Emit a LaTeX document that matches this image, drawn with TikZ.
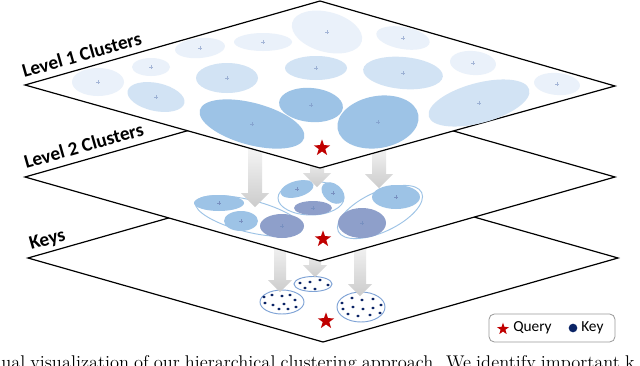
\documentclass[tikz,border=0pt]{standalone}
\usepackage{fontspec}
\newfontfamily\hcsans{Carlito}
\usetikzlibrary{shapes.geometric}
\definecolor{hcPale}{HTML}{EAF1FA}
\definecolor{hcSoft}{HTML}{D2E3F4}
\definecolor{hcDeep}{HTML}{9DC3E6}
\definecolor{hcDusk}{HTML}{8E9FCA}
\definecolor{hcTick}{HTML}{7890C0}
\definecolor{hcNavy}{HTML}{0B2466}
\definecolor{hcRim}{HTML}{7FA3D6}
\definecolor{hcRed}{HTML}{C00000}
\tikzset{
  plane/.style={draw=black, fill=white, line width=0.9pt, line join=miter},
  planelabel/.style={font=\hcsans\bfseries\fontsize{14.5}{17}\selectfont, anchor=base west, inner sep=0pt, rotate=15.9},
  query/.style={star, star points=5, star point ratio=2.5, fill=hcRed, inner sep=0pt, minimum size=13pt},
  legendtext/.style={font=\hcsans\fontsize{11.5}{13}\selectfont, anchor=west, inner sep=0pt},
}
\begin{document}
\begin{tikzpicture}[x=0.75pt, y=-0.75pt]
% one unit = one pixel of the 640 x 365 figure, y grows downwards
\useasboundingbox (0,0) rectangle (640,365);
\clip (0,0) rectangle (640,365);
% Keys plane
\path[plane] (28,258) -- (323,174) -- (618,258) -- (323,342) -- cycle;
\begin{scope}[draw=hcRim, fill=white, line width=0.7pt]
  \filldraw (282,302) ellipse (22 and 12);
  \filldraw (313,284) ellipse (19 and 7.5);
  \filldraw (361,307) ellipse (24 and 15);
\end{scope}
\begin{scope}[fill=hcNavy]
  \fill (264,297) ellipse (1.8 and 1.4);
  \fill (272,295) ellipse (1.8 and 1.4);
  \fill (282,296) ellipse (1.8 and 1.4);
  \fill (290,295) ellipse (1.8 and 1.4);
  \fill (295,300) ellipse (1.8 and 1.4);
  \fill (284,304) ellipse (1.8 and 1.4);
  \fill (273,305) ellipse (1.8 and 1.4);
  \fill (265,303) ellipse (1.8 and 1.4);
  \fill (279,309) ellipse (1.8 and 1.4);
  \fill (288,309) ellipse (1.8 and 1.4);
  \fill (296,307) ellipse (1.8 and 1.4);
  \fill (300,283) ellipse (1.8 and 1.4);
  \fill (310,282) ellipse (1.8 and 1.4);
  \fill (320,280) ellipse (1.8 and 1.4);
  \fill (328,285) ellipse (1.8 and 1.4);
  \fill (305,288) ellipse (1.8 and 1.4);
  \fill (315,289) ellipse (1.8 and 1.4);
  \fill (342,303) ellipse (1.8 and 1.4);
  \fill (352,298) ellipse (1.8 and 1.4);
  \fill (362,300) ellipse (1.8 and 1.4);
  \fill (373,299) ellipse (1.8 and 1.4);
  \fill (381,305) ellipse (1.8 and 1.4);
  \fill (343,309) ellipse (1.8 and 1.4);
  \fill (353,307) ellipse (1.8 and 1.4);
  \fill (363,309) ellipse (1.8 and 1.4);
  \fill (373,308) ellipse (1.8 and 1.4);
  \fill (348,314) ellipse (1.8 and 1.4);
  \fill (358,316) ellipse (1.8 and 1.4);
  \fill (370,315) ellipse (1.8 and 1.4);
  \fill (380,313) ellipse (1.8 and 1.4);
\end{scope}
\node[query] (qkeys) at (326,321) {};
% Arrows from level 2 down to the keys
\begin{scope}[top color=black!2, bottom color=black!20]
  \shade (274,235) -- (286,235) -- (286,280) -- (292,280) -- (280,292) -- (268,280) -- (274,280) -- cycle;
  \shade (309,245) -- (321,245) -- (321,265) -- (327,265) -- (315,277) -- (303,265) -- (309,265) -- cycle;
  \shade (354,235) -- (366,235) -- (366,284) -- (372,284) -- (360,296) -- (348,284) -- (354,284) -- cycle;
\end{scope}
% Level 2 plane
\path[plane] (25,177) -- (320,93) -- (615,177) -- (320,261) -- cycle;
\begin{scope}[draw=hcDeep, line width=0.7pt]
  \draw[rotate around={-14:(249,216)}] (249,216) ellipse (55 and 16);
  \draw (311,198) ellipse (33 and 17);
  \draw[rotate around={25:(380,212)}] (380,212) ellipse (46 and 20);
\end{scope}
\begin{scope}[fill=hcDeep]
  \fill (219,203) ellipse (25 and 8);
  \fill (241,221) ellipse (17 and 10);
  \fill[rotate around={15:(297,189)}] (297,189) ellipse (17 and 8);
  \fill[rotate around={-40:(333,193)}] (333,193) ellipse (13 and 9);
  \fill (396,197) ellipse (24 and 12);
\end{scope}
\begin{scope}[fill=hcDusk]
  \fill (282,226) ellipse (22 and 12);
  \fill (313,208) ellipse (19 and 7);
  \fill (362,223) ellipse (24 and 15);
\end{scope}
\begin{scope}[draw=hcTick, line width=0.4pt]
  \draw (219,203) +(-2,0) -- +(2,0) +(0,-2) -- +(0,2);
  \draw (241,221) +(-2,0) -- +(2,0) +(0,-2) -- +(0,2);
  \draw (282,226) +(-2,0) -- +(2,0) +(0,-2) -- +(0,2);
  \draw (297,189) +(-2,0) -- +(2,0) +(0,-2) -- +(0,2);
  \draw (333,193) +(-2,0) -- +(2,0) +(0,-2) -- +(0,2);
  \draw (313,208) +(-2,0) -- +(2,0) +(0,-2) -- +(0,2);
  \draw (396,197) +(-2,0) -- +(2,0) +(0,-2) -- +(0,2);
  \draw (362,223) +(-2,0) -- +(2,0) +(0,-2) -- +(0,2);
\end{scope}
\node[query] (qtwo) at (323,239) {};
% Arrows from level 1 down to level 2
\begin{scope}[top color=black!2, bottom color=black!20]
  \shade (248,140) -- (262,140) -- (262,193) -- (269,193) -- (255,207) -- (241,193) -- (248,193) -- cycle;
  \shade (310,150) -- (324,150) -- (324,173) -- (331,173) -- (317,187) -- (303,173) -- (310,173) -- cycle;
  \shade (372,140) -- (386,140) -- (386,174) -- (393,174) -- (379,188) -- (365,174) -- (372,174) -- cycle;
\end{scope}
% Level 1 plane
\path[plane] (25,85) -- (320,1) -- (615,86) -- (320,168) -- cycle;
\begin{scope}[fill=hcPale]
  \fill (98,82) ellipse (26 and 14);
  \fill (151,67) ellipse (19 and 9);
  \fill[rotate around={5:(200,48)}] (200,48) ellipse (25 and 10);
  \fill (263,42) ellipse (29 and 9);
  \fill[rotate around={-15:(327,32)}] (327,32) ellipse (36 and 20);
  \fill[rotate around={-10:(403,38)}] (403,38) ellipse (27 and 11);
  \fill[rotate around={-5:(473,63)}] (473,63) ellipse (23 and 12);
  \fill[rotate around={-5:(557,84)}] (557,84) ellipse (23 and 11);
\end{scope}
\begin{scope}[fill=hcSoft]
  \fill[rotate around={-12:(156,97)}] (156,97) ellipse (29 and 14);
  \fill (227,78) ellipse (31 and 15);
  \fill (316,68) ellipse (31 and 12);
  \fill[rotate around={-5:(403,73)}] (403,73) ellipse (40 and 16);
  \fill[rotate around={15:(479,103)}] (479,103) ellipse (52 and 20);
\end{scope}
\begin{scope}[fill=hcDeep]
  \fill[rotate around={-15:(252,124)}] (252,124) ellipse (54 and 21);
  \fill[rotate around={-5:(311,105)}] (311,105) ellipse (32 and 17);
  \fill[rotate around={10:(378,122)}] (378,122) ellipse (41 and 26);
\end{scope}
\begin{scope}[draw=hcTick, line width=0.4pt, draw opacity=0.6]
  \draw (98,82) +(-2,0) -- +(2,0) +(0,-2) -- +(0,2);
  \draw (151,67) +(-2,0) -- +(2,0) +(0,-2) -- +(0,2);
  \draw (200,48) +(-2,0) -- +(2,0) +(0,-2) -- +(0,2);
  \draw (263,42) +(-2,0) -- +(2,0) +(0,-2) -- +(0,2);
  \draw (327,32) +(-2,0) -- +(2,0) +(0,-2) -- +(0,2);
  \draw (403,38) +(-2,0) -- +(2,0) +(0,-2) -- +(0,2);
  \draw (473,63) +(-2,0) -- +(2,0) +(0,-2) -- +(0,2);
  \draw (557,84) +(-2,0) -- +(2,0) +(0,-2) -- +(0,2);
  \draw (156,97) +(-2,0) -- +(2,0) +(0,-2) -- +(0,2);
  \draw (227,78) +(-2,0) -- +(2,0) +(0,-2) -- +(0,2);
  \draw (316,68) +(-2,0) -- +(2,0) +(0,-2) -- +(0,2);
  \draw (403,73) +(-2,0) -- +(2,0) +(0,-2) -- +(0,2);
  \draw (479,103) +(-2,0) -- +(2,0) +(0,-2) -- +(0,2);
  \draw (252,124) +(-2,0) -- +(2,0) +(0,-2) -- +(0,2);
  \draw (311,105) +(-2,0) -- +(2,0) +(0,-2) -- +(0,2);
  \draw (378,122) +(-2,0) -- +(2,0) +(0,-2) -- +(0,2);
\end{scope}
\node[query] (qone) at (322,148) {};
% Plane titles
\node[planelabel] (lvlone) at (24,78) {Level 1 Clusters};
\node[planelabel] (lvltwo) at (26,169) {Level 2 Clusters};
\node[planelabel] (lvlkeys) at (31,250) {Keys};
% Legend
\node[draw=black!40, line width=0.6pt, rounded corners=4pt, minimum width=94.5pt, minimum height=21pt, inner sep=0pt] (legend) at (552,328) {};
\node[query, minimum size=9.5pt] (lgquery) at (503,329) {};
\node[legendtext] (lgquerytext) at (513,328) {Query};
\node[circle, fill=hcNavy, inner sep=0pt, minimum size=6.5pt] (lgkey) at (573,328) {};
\node[legendtext] (lgkeytext) at (581,328) {Key};
% Caption line cut by the lower edge
\node[anchor=base west, inner sep=0pt, font=\fontsize{13.8}{16}\selectfont] (caption) at (1,368.5) {\hbox to 475pt{ual visualization of our hierarchical clustering approach. We identify important k}};
\end{tikzpicture}
\end{document}
